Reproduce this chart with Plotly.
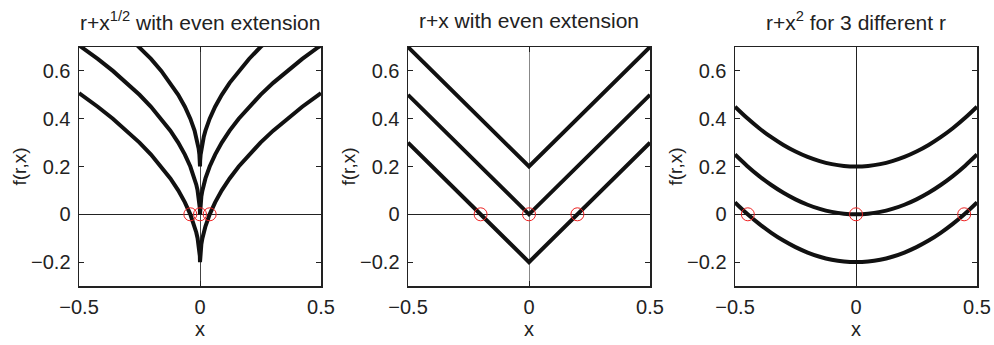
import plotly.graph_objects as go

# ---- data ----
r_values = [-0.2, 0.0, 0.2]

# sqrt(|x|) shape (even extension)
x_sqrt = [-0.5, -0.49, -0.4225, -0.36, -0.3025, -0.25, -0.2025, -0.16, -0.1225, -0.09,
          -0.0625, -0.04, -0.0225, -0.0156, -0.01, -0.0056, -0.0025, -0.0006, 0.0,
          0.0006, 0.0025, 0.0056, 0.01, 0.0156, 0.0225, 0.04, 0.0625, 0.09, 0.1225,
          0.16, 0.2025, 0.25, 0.3025, 0.36, 0.4225, 0.49, 0.5]
g_sqrt = [0.707, 0.7, 0.65, 0.6, 0.55, 0.5, 0.45, 0.4, 0.35, 0.3,
          0.25, 0.2, 0.15, 0.125, 0.1, 0.075, 0.05, 0.025, 0.0,
          0.025, 0.05, 0.075, 0.1, 0.125, 0.15, 0.2, 0.25, 0.3, 0.35,
          0.4, 0.45, 0.5, 0.55, 0.6, 0.65, 0.7, 0.707]

# |x| shape
x_abs = [-0.5, 0.0, 0.5]
g_abs = [0.5, 0.0, 0.5]

# x^2 shape
x_sq = [-0.5, -0.45, -0.4, -0.35, -0.3, -0.25, -0.2, -0.15, -0.1, -0.05, 0.0,
        0.05, 0.1, 0.15, 0.2, 0.25, 0.3, 0.35, 0.4, 0.45, 0.5]
g_sq = [0.25, 0.2025, 0.16, 0.1225, 0.09, 0.0625, 0.04, 0.0225, 0.01, 0.0025, 0.0,
        0.0025, 0.01, 0.0225, 0.04, 0.0625, 0.09, 0.1225, 0.16, 0.2025, 0.25]

roots_sqrt = [-0.04, 0.0, 0.04]
roots_abs = [-0.2, 0.0, 0.2]
roots_sq = [-0.447, 0.0, 0.447]

titles = ["r+x<sup>1/2</sup> with even extension",
          "r+x with even extension",
          "r+x<sup>2</sup> for 3 different r"]
y_ticks = [-0.2, 0, 0.2, 0.4, 0.6]
y_tick_text = ["\u22120.2", "0", "0.2", "0.4", "0.6"]
x_ticks = [-0.5, 0, 0.5]
x_tick_text = ["\u22120.5", "0", "0.5"]

# ---- layout geometry (page pixels) ----
W, H = 994, 345


def px(v):
    return v / W


def py(v):
    return 1 - v / H


plot_left = [79, 408, 735]
plot_right = [321, 650, 977]
x_domains = [(px(a), px(b)) for a, b in zip(plot_left, plot_right)]
y_domain = (py(286), py(47))

fig = go.Figure()
panels = [(x_sqrt, g_sqrt, roots_sqrt, "linear"),
          (x_abs, g_abs, roots_abs, "linear"),
          (x_sq, g_sq, roots_sq, "spline")]
zero_colors = ["#444444", "#888888", "#222222"]

font_family = "Liberation Sans, Arial, sans-serif"
FS = 20
annotations = []
for i, (xs, gs, roots, shape) in enumerate(panels):
    ax = "" if i == 0 else str(i + 1)
    for r in r_values:
        fig.add_trace(go.Scatter(
            x=xs, y=[r + g for g in gs], mode="lines",
            line=dict(color="#111111", width=4, shape=shape),
            xaxis="x" + ax, yaxis="y" + ax, showlegend=False, hoverinfo="skip"))
    fig.add_trace(go.Scatter(
        x=roots, y=[0] * len(roots), mode="markers",
        marker=dict(symbol="circle-open", size=13, color="#ee2222", line=dict(width=1)),
        xaxis="x" + ax, yaxis="y" + ax, showlegend=False, hoverinfo="skip", cliponaxis=False))
    common = dict(showline=True, linecolor="#222222", linewidth=1.5, mirror="ticks",
                  ticks="inside", ticklen=5, tickcolor="#222222", showgrid=False,
                  zeroline=True, zerolinewidth=1, automargin=False, fixedrange=True,
                  tickfont=dict(family=font_family, size=FS, color="#222222"))
    fig.update_layout(**{
        "xaxis" + ax: dict(domain=x_domains[i], range=[-0.5, 0.5], anchor="y" + ax,
                           tickvals=x_ticks, ticktext=x_tick_text, zerolinecolor=zero_colors[i],
                           ticklabelstandoff=2, **common),
        "yaxis" + ax: dict(domain=y_domain, range=[-0.3, 0.7], anchor="x" + ax,
                           tickvals=y_ticks, ticktext=y_tick_text, zerolinecolor="#222222",
                           ticklabelstandoff=3, **common),
    })
    xc = (x_domains[i][0] + x_domains[i][1]) / 2
    annotations.append(dict(text=titles[i], x=xc, y=py(21), xref="paper", yref="paper",
                            showarrow=False, xanchor="center", yanchor="middle",
                            font=dict(family=font_family, size=21, color="#222222")))
    annotations.append(dict(text="x", x=xc, y=py(329), xref="paper", yref="paper",
                            showarrow=False, xanchor="center", yanchor="middle",
                            font=dict(family=font_family, size=FS, color="#222222")))
    annotations.append(dict(text="f(r,x)", x=px(plot_left[i] - 60),
                            y=(y_domain[0] + y_domain[1]) / 2, xref="paper", yref="paper",
                            showarrow=False, xanchor="center", yanchor="middle", textangle=-90,
                            font=dict(family=font_family, size=FS - 1, color="#222222")))

fig.update_layout(width=W, height=H, margin=dict(l=0, r=0, t=0, b=0),
                  paper_bgcolor="white", plot_bgcolor="white", annotations=annotations)
fig.write_html("out.html", config={"displayModeBar": False, "staticPlot": True},
               post_script="document.body.style.margin='0';document.body.style.overflow='hidden';")
